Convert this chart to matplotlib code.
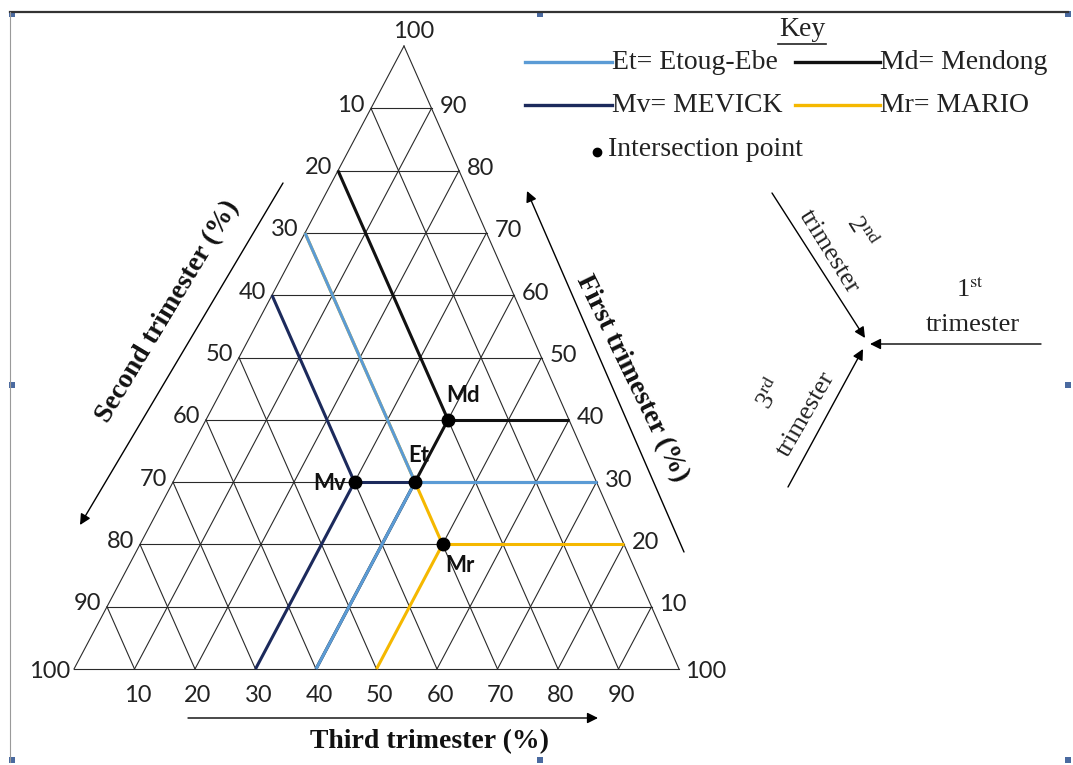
import matplotlib
matplotlib.use("Agg")
import matplotlib.pyplot as plt
from matplotlib.patches import Rectangle

# ---------------- data ----------------
sites = ["Md", "Mv", "Mr", "Et"]            # drawing order (Et on top)
site_names = ["Mendong", "MEVICK", "MARIO", "Etoug-Ebe"]
first_pct = [40, 30, 20, 30]
second_pct = [20, 40, 30, 30]
third_pct = [40, 30, 50, 40]
grid_values = [10, 20, 30, 40, 50, 60, 70, 80, 90]

# ---------------- style / layout ----------------
site_colors = {"Md": "#111111", "Mv": "#1c2a5c", "Mr": "#f5b800", "Et": "#5b9bd5"}
label_offsets = {"Md": (15, -24), "Et": (4, -27), "Mv": (-25, 1), "Mr": (17, 21)}
TOP = (404, 46)
BL = (74, 669)
BR = (679, 669)

plt.rcParams["mathtext.fontset"] = "stix"
SERIF = "Liberation Serif"
SANS = "Lato"

fig = plt.figure(figsize=(10.73, 7.65), dpi=100)
ax = fig.add_axes([0, 0, 1, 1])
ax.set_xlim(0, 1073)
ax.set_ylim(765, 0)
ax.axis("off")


def tern(f, s, t):
    tot = f + s + t
    x = (f * TOP[0] + s * BL[0] + t * BR[0]) / tot
    y = (f * TOP[1] + s * BL[1] + t * BR[1]) / tot
    return x, y


def seg(a, b, **kw):
    ax.plot([a[0], b[0]], [a[1], b[1]], **kw)


# frame of the drawing canvas
ax.plot([10, 1068], [12, 12], color="#333333", lw=1.6)
ax.plot([10, 10], [12, 762], color="#9a9a9a", lw=0.8)
for hx, hy in [(12, 14), (540, 14), (12, 385), (12, 760), (540, 760), (1068, 385), (1068, 14), (1068, 760)]:
    ax.add_patch(Rectangle((hx - 3, hy - 3), 6, 6, color="#4a6aa0", lw=0))

# grid
gkw = dict(color="#2a2a2a", lw=0.8, zorder=1)
for v in grid_values:
    seg(tern(v, 100 - v, 0), tern(v, 0, 100 - v), **gkw)      # first = v
    seg(tern(100 - v, v, 0), tern(0, v, 100 - v), **gkw)      # second = v
    seg(tern(100 - v, 0, v), tern(0, 100 - v, v), **gkw)      # third = v
seg(tern(100, 0, 0), tern(0, 100, 0), **gkw)
seg(tern(100, 0, 0), tern(0, 0, 100), **gkw)
seg(tern(0, 100, 0), tern(0, 0, 100), **gkw)

# tick labels
tkw = dict(fontsize=17, family=SANS, color="#222222")
for v in grid_values:
    x, y = tern(v, 0, 100 - v)
    ax.text(x + 8, y - 2, str(v), ha="left", va="center", **tkw)        # first (right side)
    x, y = tern(100 - v, v, 0)
    ax.text(x - 6, y - 3, str(v), ha="right", va="center", **tkw)       # second (left side)
    x, y = tern(0, 100 - v, v)
    ax.text(x + 3, y + 27, str(v), ha="center", va="center", **tkw)     # third (bottom)
x, y = tern(100, 0, 0)
ax.text(x + 10, y - 4, "100", ha="center", va="bottom", **tkw)
x, y = tern(0, 100, 0)
ax.text(x - 4, y + 3, "100", ha="right", va="center", **tkw)
x, y = tern(0, 0, 100)
ax.text(x + 6, y + 3, "100", ha="left", va="center", **tkw)

# site lines and points
for name, f, s, t in zip(sites, first_pct, second_pct, third_pct):
    c = site_colors[name]
    p = tern(f, s, t)
    lkw = dict(color=c, lw=2.2, solid_capstyle="butt", zorder=3)
    seg(p, tern(f, 0, 100 - f), **lkw)        # constant first -> right edge
    seg(p, tern(100 - s, s, 0), **lkw)        # constant second -> left edge
    seg(p, tern(0, 100 - t, t), **lkw)        # constant third -> bottom edge
for name, f, s, t in zip(sites, first_pct, second_pct, third_pct):
    p = tern(f, s, t)
    ax.plot(p[0], p[1], "o", color="black", ms=9, zorder=5)
    dx, dy = label_offsets[name]
    ax.text(p[0] + dx, p[1] + dy, name, ha="center", va="center", fontsize=16,
            fontweight="bold", family=SANS, color="#111111", zorder=6)

# axis titles with arrows
akw = dict(arrowstyle="-|>", color="black", lw=1.0, mutation_scale=16, shrinkA=0, shrinkB=0)
ttl = dict(fontsize=20, fontweight="bold", family=SERIF, ha="center", va="center", color="#111111")
ax.annotate("", xy=(80, 525), xytext=(283, 183), arrowprops=akw)
ax.text(168, 312, "Second trimester (%)", rotation=59, **ttl)
ax.annotate("", xy=(527, 191), xytext=(684, 552), arrowprops=akw)
ax.text(632, 378, "First trimester (%)", rotation=-64, **ttl)
ax.annotate("", xy=(598, 718), xytext=(188, 718), arrowprops=akw)
ax.text(429, 742, "Third trimester (%)", **ttl)

# key
ax.text(802, 29, "Key", ha="center", va="center", fontsize=20, family=SERIF, color="#222222")
ax.plot([778, 826], [44, 44], color="#222222", lw=1.2)
kkw = dict(fontsize=20, family=SERIF, va="center", ha="left", color="#222222")
key_rows = [("Et", 525, 612, 62), ("Md", 795, 880, 62), ("Mv", 525, 612, 105), ("Mr", 795, 880, 105)]
for name, x0, x1, y in key_rows:
    i = sites.index(name)
    ax.plot([x0, x1], [y, y], color=site_colors[name], lw=2.4)
    ax.text(x1, y, f"{name}= {site_names[i]}", **kkw)
ax.plot(597, 152, "o", color="black", ms=6)
ax.text(608, 149, "Intersection point", **kkw)

# orientation sketch
ax.annotate("", xy=(865, 338), xytext=(772, 193), arrowprops=akw)
ax.annotate("", xy=(870, 344), xytext=(1041, 344), arrowprops=akw)
ax.annotate("", xy=(863, 349), xytext=(788, 487), arrowprops=akw)
skw = dict(fontsize=19, family=SERIF, ha="center", va="center", color="#222222")
ax.text(829, 252, "trimester", rotation=-58, **skw)
ax.text(862, 232, r"2$^{\rm nd}$", rotation=-58, **skw)
ax.text(970, 290, r"1$^{\rm st}$", **skw)
ax.text(973, 325, "trimester", **skw)
ax.text(770, 393, r"3$^{\rm rd}$", rotation=60, **skw)
ax.text(806, 414, "trimester", rotation=60, **skw)

fig.savefig("out.png", dpi=100)
